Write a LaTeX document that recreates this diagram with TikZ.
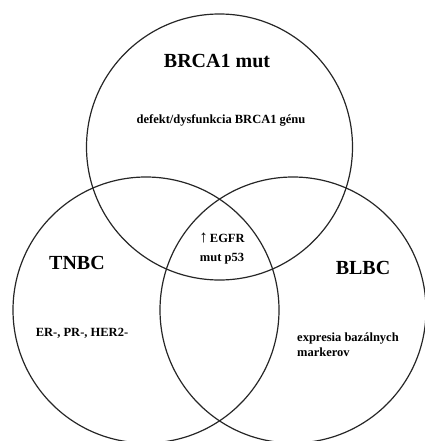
\documentclass[tikz,border=0pt]{standalone}
\usepackage{fontspec}
\setmainfont{Liberation Serif}
\begin{document}
\begin{tikzpicture}[x=1pt,y=-1pt,
  ring/.style={draw=black!85,line width=1.2pt},
  bigtxt/.style={font=\fontsize{20}{22}\selectfont\bfseries,inner sep=0pt},
  smalltxt/.style={font=\fontsize{12.5}{15}\selectfont\bfseries,inner sep=0pt}]
\useasboundingbox (0,0) rectangle (424,441);
\draw[ring] (219.5,147) circle[radius=133];
\draw[ring] (146,310) circle[radius=133];
\draw[ring] (293,310) circle[radius=133];
\node[bigtxt] (brca) at (217,61) {BRCA1 mut};
\node[smalltxt] (defekt) at (221,120) {defekt/dysfunkcia BRCA1 génu};
\node[smalltxt] (egfr) at (222,238) {{\fontsize{17}{17}\selectfont ↑}\,EGFR};
\node[smalltxt] (p53) at (222,259) {mut p53};
\node[bigtxt] (tnbc) at (77,263) {TNBC};
\node[smalltxt] (er) at (82,333) {ER-, PR-, HER2-};
\node[bigtxt] (blbc) at (363,268) {BLBC};
\node[smalltxt,align=left,anchor=west] (expr) at (297,344.5) {expresia bazálnych\\markerov};
\end{tikzpicture}
\end{document}
